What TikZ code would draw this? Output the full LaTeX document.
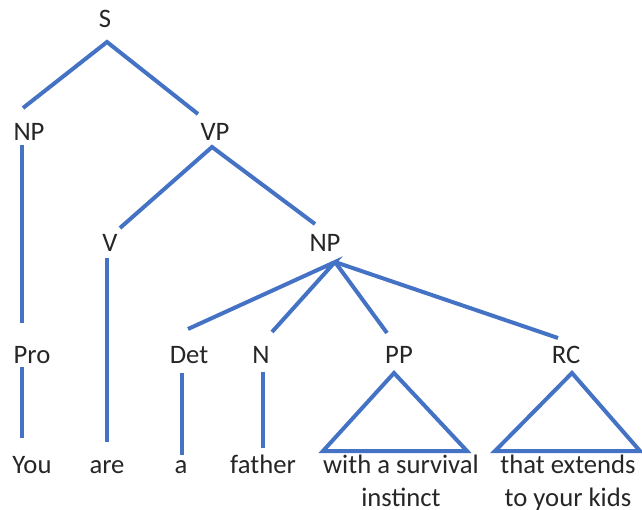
\documentclass[tikz,border=0pt]{standalone}
\usepackage{fontspec}
\setmainfont{Carlito}
\begin{document}
\begin{tikzpicture}[x=0.75pt,y=-0.75pt,
  lbl/.style={anchor=base,inner sep=0pt,text=black!85,font=\fontsize{20}{24.75}\selectfont,align=center},
  edge/.style={draw={rgb,255:red,68;green,114;blue,196},line width=3pt,line join=miter}]
\useasboundingbox (0,0) rectangle (642,510);
% labels
\node[lbl] (S) at (105,28) {S};
\node[lbl] (NP) at (29,140) {NP};
\node[lbl] (VP) at (215,140) {VP};
\node[lbl] (V) at (110,251) {V};
\node[lbl] (NP2) at (325,251) {NP};
\node[lbl] (Pro) at (32,363) {Pro};
\node[lbl] (Det) at (189,363) {Det};
\node[lbl] (N) at (261,363) {N};
\node[lbl] (PP) at (399,363) {PP};
\node[lbl] (RC) at (566,363) {RC};
\node[lbl] (You) at (32,473) {You};
\node[lbl] (are) at (107,473) {are};
\node[lbl] (a) at (181,473) {a};
\node[lbl] (father) at (263,473) {father};
\node[lbl] (ppw) at (401,506) {with a survival\\instinct};
\node[lbl] (rcw) at (568,506) {that extends\\to your kids};
% connector end points
\coordinate (Sb) at (107,42);
\coordinate (NPt) at (23,108);
\coordinate (VPt) at (198,114);
\coordinate (NPb) at (22,145);
\coordinate (Prot) at (22,323);
\coordinate (VPb) at (212,147);
\coordinate (Vt) at (120,228);
\coordinate (NP2t) at (315,224);
\coordinate (Vb) at (107,258);
\coordinate (aret) at (107,442);
\coordinate (NP2b) at (335,262);
\coordinate (Dett) at (188,329);
\coordinate (Nt) at (272,332);
\coordinate (PPt) at (387,333);
\coordinate (RCt) at (558,338);
\coordinate (Prob) at (22,367);
\coordinate (Yout) at (22,438);
\coordinate (Detb) at (182,373);
\coordinate (at) at (182,455);
\coordinate (Nb) at (263,372);
\coordinate (fathert) at (263,448);
\coordinate (PPa) at (394,373);
\coordinate (PPl) at (323,451);
\coordinate (PPr) at (467,451);
\coordinate (RCa) at (572,373);
\coordinate (RCl) at (495,451);
\coordinate (RCr) at (640,451);
% connectors
\draw[edge] (NPt) -- (Sb) -- (VPt);
\draw[edge] (NPb) -- (Prot);
\draw[edge] (Vt) -- (VPb) -- (NP2t);
\draw[edge] (Vb) -- (aret);
\draw[edge] (Dett) -- (NP2b) -- (Nt);
\draw[edge] (NP2b) -- (PPt);
\draw[edge] (NP2b) -- (RCt);
\draw[edge] (Prob) -- (Yout);
\draw[edge] (Detb) -- (at);
\draw[edge] (Nb) -- (fathert);
\draw[edge] (PPa) -- (PPl) -- (PPr) -- cycle;
\draw[edge] (RCa) -- (RCl) -- (RCr) -- cycle;
\end{tikzpicture}
\end{document}
